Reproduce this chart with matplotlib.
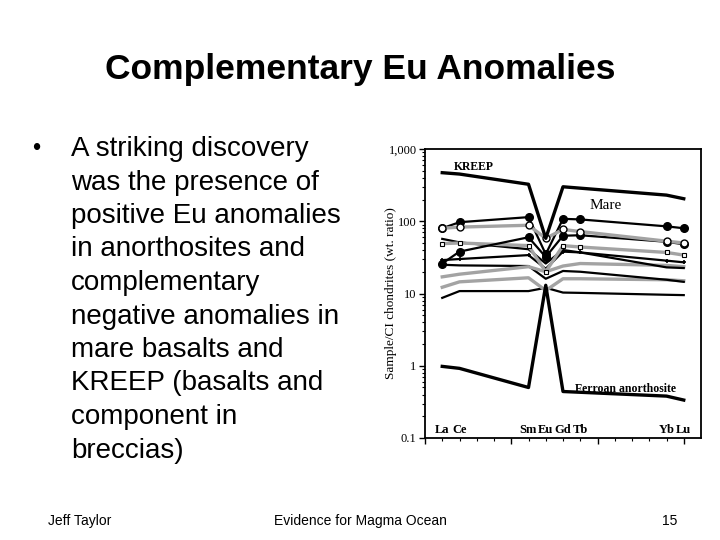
import numpy as np
import matplotlib
matplotlib.use("Agg")
import matplotlib.pyplot as plt
from matplotlib.ticker import FixedLocator, NullFormatter, LogLocator

# ------------------------------------
# DADOS
# ------------------------------------
ree_names = ["La", "Ce", "Sm", "Eu", "Gd", "Tb", "Yb", "Lu"]
ree_z = [57, 58, 62, 63, 64, 65, 70, 71]

kreep_z = [57, 58, 62, 63, 64, 70, 71]
kreep = [470, 450, 325, 58, 300, 230, 205]

fan_z = [57, 58, 62, 63, 64, 70, 71]
ferroan = [0.98, 0.92, 0.50, 13, 0.44, 0.38, 0.335]

# basaltos de mare: La, Ce, Sm, Eu, Gd, Tb, Yb, Lu
mare_black_dots_hi = [80, 97, 114, 35, 108, 106, 85, 80]
mare_grey_rings = [80, 83, 88, 58, 77, 72, 53, 50]
mare_black_dots_lo = [26, 38, 60, 32, 63, 64, 52, 48]
mare_grey_squares = [49, 50, 46, 20, 46, 44, 37, 34]
mare_black_plus = [29, 30, 34, 22, 38, 37, 28.5, 27]
mare_black_a = [57, 51, 41, 26, 40, 37, 23, 22.5]
mare_grey_a = [17, 18.5, 23.5, 20, 24, 26, 24.5, 23.5]
mare_black_b = [25, 24.5, 24, 16, 20.5, 20, 15.5, 14.5]
mare_grey_b = [12.2, 14.5, 16.5, 11, 16, 16, 15.5, 15]
mare_black_c = [8.7, 10.8, 10.8, 12, 10.3, 10.2, 9.6, 9.5]

titulo = "Complementary Eu Anomalies"
bullet_lines = [
    "A striking discovery",
    "was the presence of",
    "positive Eu anomalies",
    "in anorthosites and",
    "complementary",
    "negative anomalies in",
    "mare basalts and",
    "KREEP (basalts and",
    "component in",
    "breccias)",
]
rodape = ["Jeff Taylor", "Evidence for Magma Ocean", "15"]

SANS = "Liberation Sans"
SERIF = "Liberation Serif"
GREY = "#a3a3a3"

# ------------------------------------
# FIGURA (slide 720x540)
# ------------------------------------
fig = plt.figure(figsize=(7.2, 5.4), dpi=100)
fig.patch.set_facecolor("white")


def py(y):
    # pixel (de cima) -> coordenada da figura
    return 1 - y / 540.0


fig.text(360 / 720, py(69), titulo, ha="center", va="center",
         fontsize=25.5, fontweight="bold", family=SANS)

fig.text(36 / 720, py(149), "\u2022", ha="center", va="center", fontsize=17, family=SANS)
for i, linha in enumerate(bullet_lines):
    fig.text(71 / 720, py(149 + i * 33.5), linha, ha="left", va="center",
             fontsize=20, family=SANS)

fig.text(48 / 720, py(521), rodape[0], ha="left", va="center", fontsize=10, family=SANS)
fig.text(360 / 720, py(521), rodape[1], ha="center", va="center", fontsize=10, family=SANS)
fig.text(677 / 720, py(521), rodape[2], ha="right", va="center", fontsize=10, family=SANS)

# ------------------------------------
# GRÁFICO DE TERRAS RARAS
# ------------------------------------
ax = fig.add_axes([425 / 720, py(438), 276 / 720, 289 / 540])
ax.set_yscale("log")
ax.set_xlim(56, 72)
ax.set_ylim(0.1, 1000)

lw_b = 1.6
lw_g = 2.4

# linhas de fundo primeiro, marcadores por cima
ax.plot(ree_z, mare_black_c, color="black", lw=lw_b)
ax.plot(ree_z, mare_grey_b, color=GREY, lw=lw_g)
ax.plot(ree_z, mare_black_b, color="black", lw=lw_b)
ax.plot(ree_z, mare_grey_a, color=GREY, lw=lw_g)
ax.plot(ree_z, mare_black_a, color="black", lw=lw_b)
ax.plot(ree_z, mare_black_plus, color="black", lw=lw_b, marker="+", ms=3.5, mew=1.2)
ax.plot(ree_z, mare_grey_squares, color=GREY, lw=lw_g, marker="s", ms=3,
        mfc="white", mec="black", mew=0.8)
ax.plot(ree_z, mare_black_dots_lo, color="black", lw=lw_b, marker="o", ms=5.5)
ax.plot(ree_z, mare_black_dots_hi, color="black", lw=lw_b, marker="o", ms=5.5)
ax.plot(ree_z, mare_grey_rings, color=GREY, lw=lw_g, marker="o", ms=5,
        mfc="white", mec="black", mew=1.0)

ax.plot(kreep_z, kreep, color="black", lw=2.4)
ax.plot(fan_z, ferroan, color="black", lw=2.4)

# rótulos dentro do gráfico
ax.text(57.7, 570, "KREEP", ha="left", va="center", fontsize=8.5,
        fontweight="bold", family=SERIF)
ax.text(66.5, 165, "Mare", ha="center", va="center", fontsize=11, family=SERIF)
ax.text(67.6, 0.47, "Ferroan anorthosite", ha="center", va="center",
        fontsize=8.5, fontweight="bold", family=SERIF)
for nome, z in zip(ree_names, ree_z):
    ax.text(z, 0.128, nome, ha="center", va="center", fontsize=9,
            fontweight="bold", family=SERIF)

# eixos
ax.set_yticks([0.1, 1, 10, 100, 1000])
ax.set_yticklabels(["0.1", "1", "10", "100", "1,000"], family=SERIF, fontsize=9)
ax.yaxis.set_minor_locator(LogLocator(base=10, subs=np.arange(2, 10)))
ax.yaxis.set_minor_formatter(NullFormatter())
ax.set_ylabel("Sample/CI chondrites (wt. ratio)", family=SERIF, fontsize=9.5)
ax.yaxis.set_label_coords(-0.10, 0.5)

ax.xaxis.set_major_locator(FixedLocator([56, 61, 66, 71]))
ax.xaxis.set_minor_locator(FixedLocator(np.arange(57, 72)))
ax.set_xticklabels([])

ax.tick_params(which="major", length=4, width=1.0, direction="out", pad=2)
ax.tick_params(which="minor", length=2.5, width=0.8, direction="out")
for s in ax.spines.values():
    s.set_linewidth(1.3)

plt.savefig("out.png", dpi=100, facecolor="white")
